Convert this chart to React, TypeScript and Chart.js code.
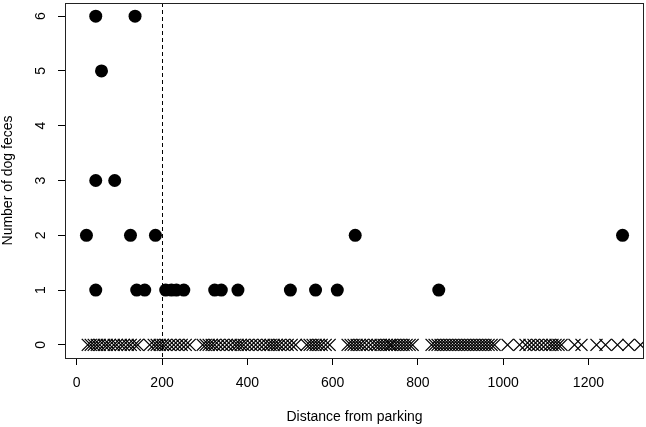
import React, { useEffect, useRef } from "react";
import { Chart, registerables } from "chart.js";

Chart.register(...registerables);

// Sites with dog feces: distance from parking (m) and number of feces
const fecesDistance = [
  44.5, 136.7,
  58,
  44.5, 89,
  22.7, 126, 184.5, 653, 1280,
  44.5, 140.6, 159.4, 208.6, 222, 233.7, 251, 323.5, 339, 378, 501, 560, 611, 849,
];
const fecesCount = [
  6, 6,
  5,
  3, 3,
  2, 2, 2, 2, 2,
  1, 1, 1, 1, 1, 1, 1, 1, 1, 1, 1, 1, 1, 1,
];

// Sites without dog feces (count 0): distance from parking (m)
const noFecesDistance = [
  25.8, 32.8, 39.8, 46.9, 53.9, 63.3, 70.3, 77.4, 86.7, 93.8, 103.1, 110.2, 119.5, 126.6, 136, 143,
  171, 180.5, 187.5, 194.6, 201.6, 208.7, 218, 227.4, 236.7, 246.1, 255.5, 264.9,
  295.3, 302.4, 309.4, 316.4, 323.5, 332.8, 342.2, 351.6, 361, 370.4, 377.4, 384.4, 391.4, 400.8,
  410.2, 419.6, 429, 438.3, 447.7, 454.7, 461.8, 468.8, 475.8, 485.2, 494.6, 504, 513.3,
  539.1, 546.2, 553.2, 560.2, 567.2, 574.3, 583.7, 593,
  635.2, 642.3, 649.3, 656.3, 663.4, 670.4, 679.8, 689.1, 698.5, 705.5, 712.6, 719.6, 726.6,
  733.7, 738.4, 745.4, 752.4, 759.5, 766.5, 773.5, 780.6, 787.6,
  832.1, 839.2, 846.2, 853.2, 860.2, 867.3, 874.3, 881.3, 888.4, 895.4, 902.4, 909.5, 916.5,
  923.5, 930.6, 937.6, 944.6, 951.7, 958.7, 965.7, 972.8, 979.8,
  1010.3, 1038.4, 1052.5, 1061.8, 1071.2, 1080.6, 1090, 1099.3, 1108.7, 1115.7, 1122.8, 1129.8, 1136.8,
  1167.3, 1183.7, 1218.9, 1240, 1268.1, 1293.9, 1322,
];

const xTicks = [0, 200, 400, 600, 800, 1000, 1200];
const yTicks = [0, 1, 2, 3, 4, 5, 6];
const cutoffDistance = 200;

const xTitle = "Distance from parking";
const yTitle = "Number of dog feces";

const FONT = "'Liberation Sans', Arial, Helvetica, sans-serif";
const FS = 14;

function noPad(scale: any) {
  scale.paddingTop = 0;
  scale.paddingBottom = 0;
  scale.paddingLeft = 0;
  scale.paddingRight = 0;
}

export default function App() {
  const canvasRef = useRef<HTMLCanvasElement | null>(null);

  useEffect(() => {
    const canvas = canvasRef.current;
    if (!canvas) return;

    const xmin = Math.min(...fecesDistance);
    const xmax = Math.max(...fecesDistance);
    const xpad = (xmax - xmin) * 0.04;
    const ymin = Math.min(...fecesCount);
    const ymax = Math.max(...fecesCount);
    const ylo = Math.min(0, ymin);
    const ypad = (ymax - ylo) * 0.04;

    const frame = {
      id: "rframe",
      afterDatasetsDraw(chart: any) {
        const { ctx, chartArea, scales } = chart;
        const { left, right, top, bottom } = chartArea;
        ctx.save();
        const xp = Math.round(scales.x.getPixelForValue(cutoffDistance)) + 0.5;
        ctx.strokeStyle = "#000";
        ctx.lineWidth = 1;
        ctx.setLineDash([4, 3]);
        ctx.beginPath();
        ctx.moveTo(xp, top);
        ctx.lineTo(xp, bottom);
        ctx.stroke();
        ctx.setLineDash([]);
        ctx.strokeStyle = "#222";
        ctx.strokeRect(left + 0.5, top + 0.5, right - left - 1, bottom - top);
        ctx.restore();
      },
    };

    const chart = new Chart(canvas, {
      type: "scatter",
      data: {
        datasets: [
          {
            label: "absent",
            data: noFecesDistance.map((d) => ({ x: d, y: 0 })),
            pointStyle: "crossRot",
            pointRadius: 8.5,
            borderColor: "#000",
            backgroundColor: "#000",
            borderWidth: 1.3,
            clip: 0,
          },
          {
            label: "present",
            data: fecesDistance.map((d, i) => ({ x: d, y: fecesCount[i] })),
            pointStyle: "circle",
            pointRadius: 6.5,
            backgroundColor: "#000",
            borderColor: "#000",
            borderWidth: 0,
            clip: 0,
          },
        ],
      },
      options: {
        responsive: false,
        animation: false,
        events: [],
        layout: { autoPadding: false, padding: { top: 3, right: 2, left: 0, bottom: 0 } },
        plugins: {
          legend: { display: false },
          tooltip: { enabled: false },
        },
        scales: {
          x: {
            type: "linear",
            min: xmin - xpad,
            max: xmax + xpad,
            afterBuildTicks: (scale: any) => {
              scale.ticks = xTicks.map((v) => ({ value: v }));
            },
            afterFit: (scale: any) => {
              scale.height = 69;
              noPad(scale);
            },
            border: { display: false },
            grid: {
              drawOnChartArea: false,
              drawTicks: true,
              tickLength: 7,
              color: "#000",
              lineWidth: 1,
            },
            ticks: {
              color: "#000",
              padding: 10,
              maxRotation: 0,
              autoSkip: false,
              callback: (v: any) => String(v),
              font: { family: FONT, size: FS },
            },
            title: {
              display: true,
              text: xTitle,
              color: "#000",
              font: { family: FONT, size: FS },
              padding: { top: 0, bottom: 1 },
            },
          },
          y: {
            type: "linear",
            min: ylo - ypad,
            max: ymax + ypad,
            afterBuildTicks: (scale: any) => {
              scale.ticks = yTicks.map((v) => ({ value: v }));
            },
            afterFit: (scale: any) => {
              scale.width = 65;
              noPad(scale);
            },
            border: { display: false },
            grid: {
              drawOnChartArea: false,
              drawTicks: true,
              tickLength: 7,
              color: "#000",
              lineWidth: 1,
            },
            ticks: {
              color: "#000",
              padding: 13,
              minRotation: 90,
              maxRotation: 90,
              crossAlign: "center",
              autoSkip: false,
              callback: (v: any) => String(v),
              font: { family: FONT, size: FS },
            },
            title: {
              display: true,
              text: yTitle,
              color: "#000",
              font: { family: FONT, size: FS },
              padding: { top: 0, bottom: 0 },
            },
          },
        },
      },
      plugins: [frame],
    } as any);

    return () => chart.destroy();
  }, []);

  return (
    <div style={{ position: "fixed", left: 0, top: 0, width: 646, height: 427, background: "#fff" }}>
      <canvas ref={canvasRef} width={646} height={427} style={{ display: "block" }} />
    </div>
  );
}
